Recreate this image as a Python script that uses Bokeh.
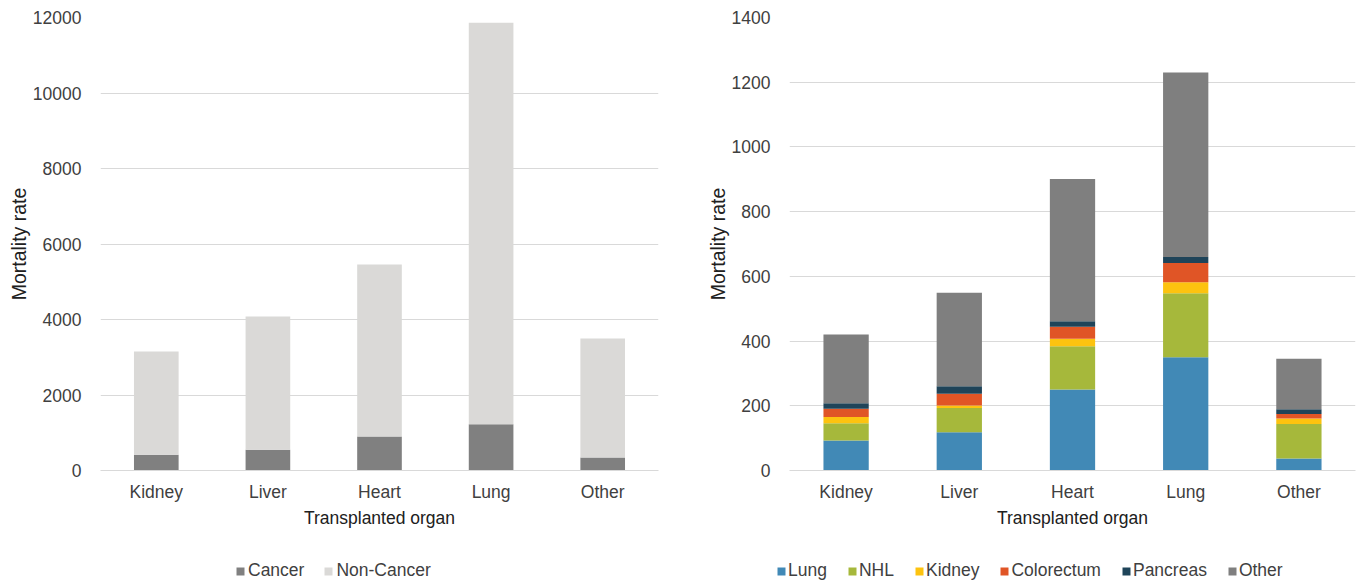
from bokeh.plotting import figure
from bokeh.models import ColumnDataSource, FixedTicker, FactorRange, Range1d, Legend, LegendItem
from bokeh.layouts import row, column
from bokeh.embed import file_html
from bokeh.resources import INLINE

organs = ["Kidney", "Liver", "Heart", "Lung", "Other"]

# Left chart: all-cause mortality split
cancer = [420, 548, 900, 1228, 344]
non_cancer = [2730, 3530, 4560, 10630, 3150]
left_series = ["Cancer", "Non-Cancer"]
left_colors = ["#808080", "#DAD9D7"]

# Right chart: cancer mortality by cancer site
site_lung = [93, 118, 250, 350, 37]
site_nhl = [53, 75, 134, 198, 107]
site_kidney = [19, 8, 23, 34, 17]
site_colorectum = [26, 36, 37, 59, 14]
site_pancreas = [17, 23, 17, 19, 14]
site_other = [212, 289, 440, 570, 156]
right_series = ["Lung", "NHL", "Kidney", "Colorectum", "Pancreas", "Other"]
right_colors = ["#4189B6", "#A6B83B", "#FDC30F", "#E05526", "#1F4459", "#7F7F7F"]

left_ticks = [0, 2000, 4000, 6000, 8000, 10000, 12000]
right_ticks = [0, 200, 400, 600, 800, 1000, 1200, 1400]

FONT = "Liberation Sans"
TXT = "#404040"
GRID = "#D9D9D9"
FS = "17.5px"
YFS = "19.5px"
CH = 530      # chart height
LH = 53       # legend strip height
W1, W2 = 690, 668


def style(p, ticks):
    p.outline_line_color = None
    p.xgrid.grid_line_color = None
    p.ygrid.grid_line_color = GRID
    p.ygrid.grid_line_width = 1
    p.yaxis.ticker = FixedTicker(ticks=ticks)
    for ax in (p.xaxis[0], p.yaxis[0]):
        ax.major_tick_line_color = None
        ax.minor_tick_line_color = None
        ax.major_label_text_font = FONT
        ax.major_label_text_font_size = FS
        ax.major_label_text_color = TXT
        ax.axis_label_text_font = FONT
        ax.axis_label_text_color = "#202020"
        ax.axis_label_text_font_style = "normal"
    p.xaxis.axis_label_text_font_size = FS
    p.yaxis.axis_label_text_font_size = YFS
    p.yaxis.axis_line_color = None
    p.xaxis.axis_line_color = GRID
    p.xaxis.axis_label = "Transplanted organ"
    p.yaxis.axis_label = "Mortality rate"
    p.xaxis.major_label_standoff = 5
    p.xaxis.axis_label_standoff = 3
    p.yaxis.major_label_standoff = 13
    p.yaxis.axis_label_standoff = 0
    p.x_range.range_padding = 0


def legend_strip(width, stackers, source, colors, labels, x, spacing, standoff):
    lf = figure(x_range=FactorRange(*organs), y_range=Range1d(0, 1),
                width=width, height=LH, output_backend="svg", toolbar_location=None,
                x_axis_type=None, y_axis_type=None,
                min_border_left=0, min_border_right=0, min_border_top=0, min_border_bottom=0)
    lf.outline_line_color = None
    lf.grid.grid_line_color = None
    # legend-only renderers: same series, hidden in this strip
    rs = lf.vbar_stack(stackers, x="organ", width=0.4, color=colors, line_color=None,
                       source=source)
    for r in rs:
        r.visible = False
    items = [LegendItem(label=lab, renderers=[r]) for lab, r in zip(labels, rs)]
    lg = Legend(items=items, orientation="horizontal", location=(x, 2))
    lg.border_line_color = None
    lg.background_fill_alpha = 0
    lg.inactive_fill_alpha = 0
    lg.padding = 0
    lg.margin = 0
    lg.spacing = spacing
    lg.label_standoff = standoff
    lg.glyph_width = 10
    lg.glyph_height = 10
    lg.label_height = 18
    lg.label_text_font = FONT
    lg.label_text_font_size = FS
    lg.label_text_color = TXT
    lf.add_layout(lg)
    return lf


# ---- Left figure
left_stack = ["cancer", "non_cancer"]
src_l = ColumnDataSource(dict(organ=organs, cancer=cancer, non_cancer=non_cancer))
p1 = figure(x_range=FactorRange(*organs), y_range=Range1d(0, 12000),
            width=W1, height=CH, output_backend="svg", toolbar_location=None,
            min_border_left=100, min_border_right=W1 - 100 - 558, min_border_top=17,
            min_border_bottom=CH - 17 - 454)
p1.vbar_stack(left_stack, x="organ", width=0.4, color=left_colors,
              line_color=None, source=src_l)
style(p1, left_ticks)
l1 = legend_strip(W1, left_stack, src_l, left_colors, left_series, 235, 19, 3)

# ---- Right figure
right_stack = ["s_lung", "s_nhl", "s_kidney", "s_colorectum", "s_pancreas", "s_other"]
src_r = ColumnDataSource(dict(organ=organs, s_lung=site_lung, s_nhl=site_nhl,
                              s_kidney=site_kidney, s_colorectum=site_colorectum,
                              s_pancreas=site_pancreas, s_other=site_other))
p2 = figure(x_range=FactorRange(*organs), y_range=Range1d(0, 1400),
            width=W2, height=CH, output_backend="svg", toolbar_location=None,
            min_border_left=99, min_border_right=W2 - 99 - 566, min_border_top=17,
            min_border_bottom=CH - 17 - 454)
p2.vbar_stack(right_stack, x="organ", width=0.4, color=right_colors, line_color=None,
              source=src_r)
style(p2, right_ticks)
l2 = legend_strip(W2, right_stack, src_r, right_colors, right_series, 776 - W1, 20, 2)

layout = column(row(p1, p2), row(l1, l2))
open("out.html", "w").write(file_html(layout, INLINE))
